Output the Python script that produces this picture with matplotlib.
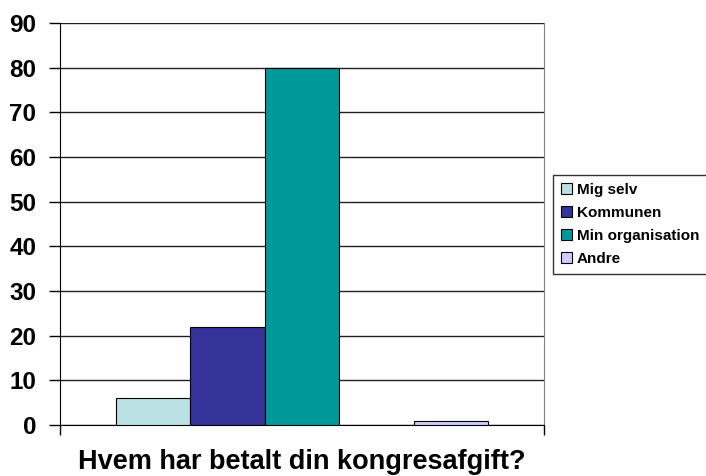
import matplotlib
matplotlib.use("Agg")
import matplotlib.pyplot as plt
from matplotlib.patches import Patch

plt.rcParams["font.family"] = ["Liberation Sans", "DejaVu Sans"]

# series in the single category; one empty slot (blank series) before "Andre"
series_names = ["Mig selv", "Kommunen", "Min organisation", None, "Andre"]
series_values = [6, 22, 80, None, 1]
series_colors = ["#BBE0E3", "#333399", "#009999", None, "#CCCCFF"]
y_ticks = [0, 10, 20, 30, 40, 50, 60, 70, 80, 90]
title = "Hvem har betalt din kongresafgift?"

fig = plt.figure(figsize=(7.06, 4.76), dpi=100)
ax = fig.add_axes([60 / 706, 51 / 476, 484 / 706, 402 / 476])

n = len(series_names)
gap = 1.5  # Excel gap width 150 %
bar_w = 1.0 / (n + gap)
x0 = gap / 2 * bar_w
handles = []
for i, (name, val, col) in enumerate(zip(series_names, series_values, series_colors)):
    if name is None:
        continue
    ax.bar(x0 + i * bar_w, val, width=bar_w, align="edge", color=col,
           edgecolor="black", linewidth=0.8, zorder=3)
    handles.append(Patch(facecolor=col, edgecolor="black", linewidth=0.8, label=name))

ax.set_xlim(0, 1)
ax.set_ylim(0, 90)
ax.set_yticks(y_ticks)
ax.set_yticklabels([str(t) for t in y_ticks], fontsize=17.5, fontweight="bold")
ax.set_xticks([0, 1])
ax.set_xticklabels([])
ax.tick_params(axis="y", direction="out", length=8, width=1, pad=9)
ax.tick_params(axis="x", direction="out", length=7, width=1, color="black")
ax.yaxis.grid(True, color="#202020", linewidth=1, zorder=0)
ax.set_axisbelow(True)

ax.spines["top"].set_visible(False)
ax.spines["right"].set_color("#808080")
ax.spines["left"].set_color("black")
ax.spines["bottom"].set_color("black")

fig.text(302 / 706, 1 - 462 / 476, title, ha="center", va="center",
         fontsize=19.5, fontweight="bold")

leg = fig.legend(handles=handles, loc="upper left",
                 bbox_to_anchor=(553 / 706, 1 - 175 / 476),
                 prop={"size": 11, "weight": "bold"}, frameon=True, fancybox=False,
                 edgecolor="black", handlelength=0.75, handleheight=0.75,
                 handletextpad=0.3, borderpad=0.5, labelspacing=0.6,
                 borderaxespad=0)
leg.get_frame().set_linewidth(1)

fig.savefig("out.png", dpi=100)
